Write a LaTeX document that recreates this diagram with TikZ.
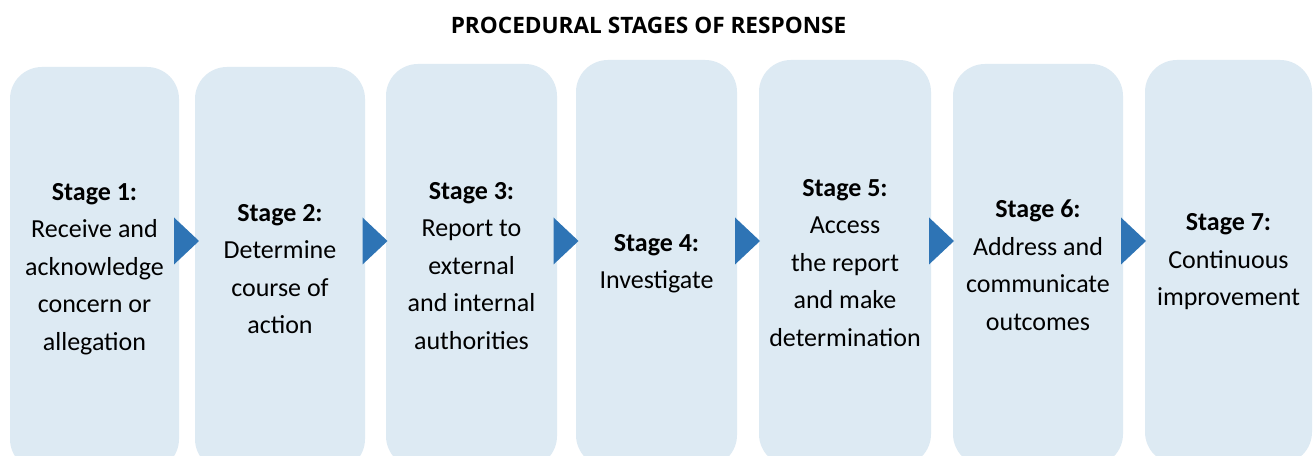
\documentclass[tikz,border=0pt]{standalone}
\usepackage{fontspec}
\setmainfont{Carlito}
\newfontfamily\titlefamily{Open Sans}
\usetikzlibrary{positioning,calc}
\definecolor{boxblue}{HTML}{DDEAF3}
\definecolor{arrowblue}{HTML}{2E74B5}
\newcommand{\stagefont}{\fontsize{26pt}{37.5pt}\selectfont}
\tikzset{
stagebox/.style = {fill=boxblue, rectangle, rounded corners=32pt, align=center, font=\stagefont, inner sep=0pt},
chevron/.style = {fill=arrowblue},
title/.style = {font=\titlefamily\bfseries\fontsize{22.6pt}{26pt}\selectfont, text=black}
}

\begin{document}
\begin{tikzpicture}[x=1pt,y=1pt]
    \useasboundingbox (0,0) rectangle (1314,455);
    \clip (0,0) rectangle (1314,455);
    \fill[white] (0,0) rectangle (1314,455);

    \node [title] (title) at (648.5,430) {PROCEDURAL STAGES OF RESPONSE};

    \node [stagebox, minimum width=169pt, minimum height=404pt] (s1) at (94.5,186)
       {\textbf{Stage 1:}\\Receive and\\acknowledge\\concern or\\allegation};
    \node [stagebox, minimum width=170pt, minimum height=404pt] (s2) at (280,186)
       {\textbf{Stage 2:}\\Determine\\course of\\action};
    \node [stagebox, minimum width=171pt, minimum height=404pt] (s3) at (471.5,189)
       {\textbf{Stage 3:}\\Report to\\external\\and internal\\authorities};
    \node [stagebox, minimum width=161pt, minimum height=407pt] (s4) at (656.5,191.5)
       {\textbf{Stage 4:}\\Investigate};
    \node [stagebox, minimum width=172pt, minimum height=406pt] (s5) at (845,192)
       {\textbf{Stage 5:}\\Access\\the report\\and make\\determination};
    \node [stagebox, minimum width=170pt, minimum height=402pt] (s6) at (1038,190)
       {\textbf{Stage 6:}\\Address and\\communicate\\outcomes};
    \node [stagebox, minimum width=167pt, minimum height=404pt] (s7) at (1228.5,193)
       {\textbf{Stage 7:}\\Continuous\\improvement};

    % chevrons between the stages
    \foreach \a/\b/\g in {s1/s2/g1,s2/s3/g2,s3/s4/g3,s4/s5/g4,s5/s6/g5,s6/s7/g6}{
        \coordinate (\g) at ($(\a.east)!0.5!(\b.west)$);
        \fill [chevron] (\g |- 0,214) ++(-13,23.5) -- ++(25,-23.5) -- ++(-25,-23.5) -- cycle;
    }
\end{tikzpicture}
\end{document}
